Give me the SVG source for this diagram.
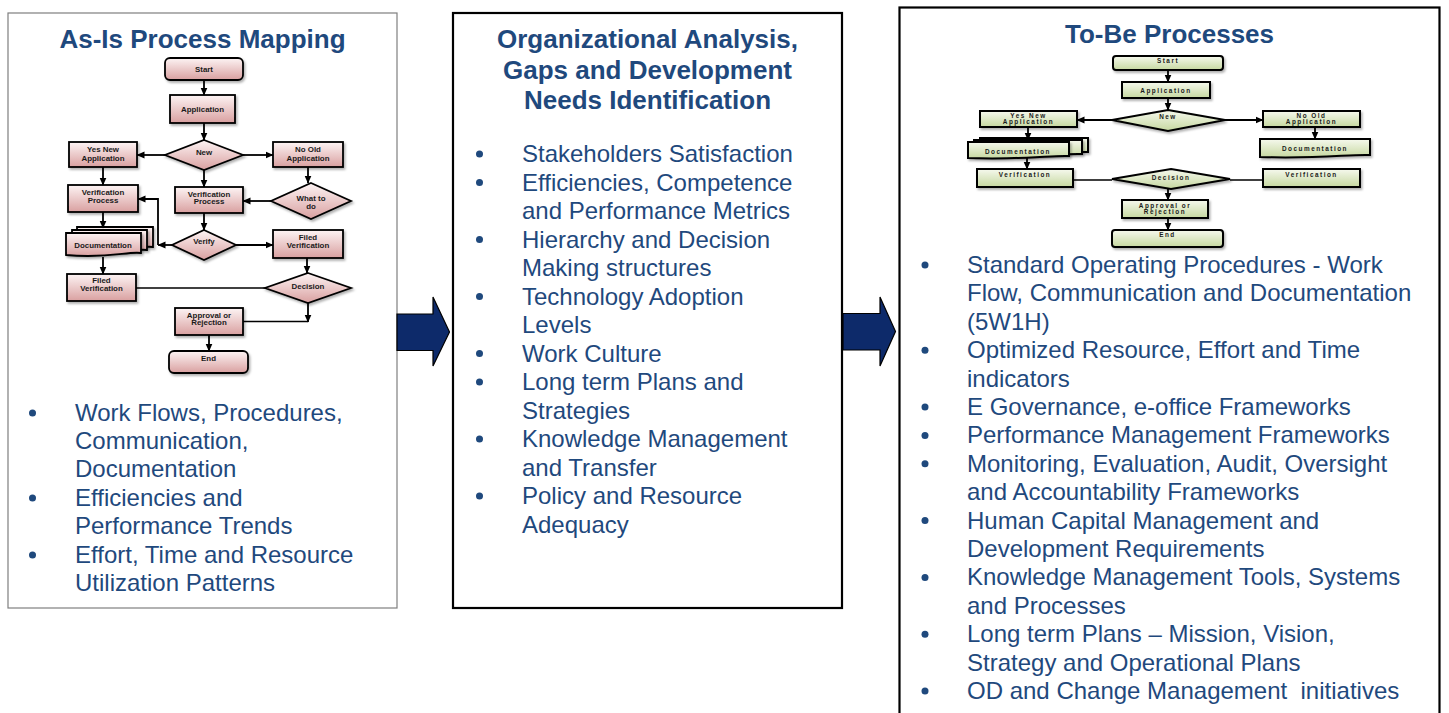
<svg xmlns="http://www.w3.org/2000/svg" width="1449" height="713" viewBox="0 0 1449 713">
  <style>
    .panel-thin { fill: #ffffff; stroke: #7f7f7f; stroke-width: 1.2; }
    .panel { fill: #ffffff; stroke: #000000; stroke-width: 2.2; }
    .title { font-family: "Liberation Sans", Arial, sans-serif; font-weight: bold; font-size: 26px; fill: #1f497d; text-anchor: middle; }
    .item { font-family: "Liberation Sans", Arial, sans-serif; font-size: 24px; fill: #1f497d; }
    .dot { fill: #1f497d; }
    .bigarrow { fill: #0d2a6a; stroke: #000000; stroke-width: 1.2; }
    .pk { fill: url(#pinkFill); stroke: #000000; stroke-width: 1.8; filter: url(#shadow); }
    .gr { fill: url(#greenFill); stroke: #000000; stroke-width: 2; filter: url(#shadow); }
    .lbl { font-family: "Liberation Sans", Arial, sans-serif; font-weight: bold; font-size: 7.9px; fill: #1a1a1a; text-anchor: middle; }
    .lbl2 { font-family: "Liberation Sans", Arial, sans-serif; font-weight: bold; font-size: 6.4px; letter-spacing: 1.5px; fill: #1a1a1a; text-anchor: middle; }
    .ln { fill: none; stroke: #000000; stroke-width: 1.5; }
    .ar { fill: none; stroke: #000000; stroke-width: 1.8; marker-end: url(#tip); }
  </style>
  <defs>
    <linearGradient id="pinkFill" x1="0" y1="0" x2="0" y2="1">
      <stop offset="0" stop-color="#fdf4f4"/>
      <stop offset="1" stop-color="#d9a0a0"/>
    </linearGradient>
    <linearGradient id="greenFill" x1="0" y1="0" x2="0" y2="1">
      <stop offset="0" stop-color="#f6f9ee"/>
      <stop offset="1" stop-color="#c6d8a0"/>
    </linearGradient>
    <filter id="shadow" x="-20%" y="-20%" width="150%" height="160%">
      <feDropShadow dx="1.5" dy="2" stdDeviation="1.2" flood-color="#000000" flood-opacity="0.3"/>
    </filter>
    <marker id="tip" markerUnits="userSpaceOnUse" markerWidth="8" markerHeight="8" viewBox="0 0 8 8" refX="7.5" refY="4" orient="auto">
      <path d="M0,0.5 L8,4 L0,7.5 Z" fill="#000000"/>
    </marker>
  </defs>

  <!-- Panels -->
  <g id="panel-asis">
    <rect class="panel-thin" x="8" y="13" width="389" height="595"/>
    <text class="title" x="202.5" y="48">As-Is Process Mapping</text>
  </g>
  <g id="panel-analysis">
    <rect class="panel" x="453" y="13" width="389" height="595"/>
    <text class="title" x="647.5" y="48">Organizational Analysis,</text>
    <text class="title" x="647.5" y="79">Gaps and Development</text>
    <text class="title" x="647.5" y="109">Needs Identification</text>
  </g>
  <g id="panel-tobe">
    <rect class="panel" x="899.5" y="7.5" width="540" height="720"/>
    <text class="title" x="1169.5" y="43">To-Be Processes</text>
  </g>

  <!-- Block arrows between panels -->
  <g id="flow-arrows">
    <polygon class="bigarrow" points="397,314 433,314 433,297 449.5,332 433,366 433,350.5 397,350.5"/>
    <polygon class="bigarrow" points="843,313.5 880,313.5 880,297 895.5,331.5 880,366 880,350 843,350"/>
  </g>

  <!-- As-Is flowchart: nodes -->
  <g id="asis-start"><rect class="pk" x="165" y="58" width="78" height="22" rx="5"/><text class="lbl" x="204" y="71.5">Start</text></g>
  <g id="asis-application"><rect class="pk" x="170" y="95" width="65" height="28"/><text class="lbl" x="202.5" y="111.5">Application</text></g>
  <g id="asis-new"><polygon class="pk" points="204,140 243,155 204,170 165,155"/><text class="lbl" x="204" y="155">New</text></g>
  <g id="asis-yesnew"><rect class="pk" x="69" y="142" width="68" height="25"/><text class="lbl" x="103" y="152">Yes New</text><text class="lbl" x="103" y="161">Application</text></g>
  <g id="asis-noold"><rect class="pk" x="273" y="142" width="70" height="25"/><text class="lbl" x="308" y="152">No Old</text><text class="lbl" x="308" y="161">Application</text></g>
  <g id="asis-verif-left"><rect class="pk" x="68" y="185" width="70" height="27"/><text class="lbl" x="103" y="195">Verification</text><text class="lbl" x="103" y="203">Process</text></g>
  <g id="asis-verif-mid"><rect class="pk" x="175" y="187" width="68" height="26"/><text class="lbl" x="209" y="196.5">Verification</text><text class="lbl" x="209" y="204">Process</text></g>
  <g id="asis-whattodo"><polygon class="pk" points="311,183 351,201 311,219 271,201"/><text class="lbl" x="311" y="201">What to</text><text class="lbl" x="311" y="209">do</text></g>
  <g id="asis-verify"><polygon class="pk" points="204,230 236,245 204,260 172,245"/><text class="lbl" x="204" y="244">Verify</text></g>
  <g id="asis-filed-right"><rect class="pk" x="273" y="230" width="70" height="28"/><text class="lbl" x="308" y="240">Filed</text><text class="lbl" x="308" y="247.7">Verification</text></g>
  <g id="asis-documentation">
    <path class="pk" d="M77,227 H153 V247 C140,245 120,253 77,249 Z"/>
    <path class="pk" d="M72,230 H147 V250 C134,248 114,256 72,252 Z"/>
    <path class="pk" d="M66,233 H141 V253 C128,251 108,259 66,255 Z"/>
    <text class="lbl" x="103" y="248">Documentation</text>
  </g>
  <g id="asis-filed-left"><rect class="pk" x="67" y="274" width="69" height="27"/><text class="lbl" x="101.5" y="283">Filed</text><text class="lbl" x="101.5" y="291">Verification</text></g>
  <g id="asis-decision"><polygon class="pk" points="308,273 351,288 308,303 265,288"/><text class="lbl" x="308" y="288.5">Decision</text></g>
  <g id="asis-approval"><rect class="pk" x="175" y="308" width="68" height="27"/><text class="lbl" x="209" y="317.5">Approval or</text><text class="lbl" x="209" y="325">Rejection</text></g>
  <g id="asis-end"><rect class="pk" x="169" y="351" width="79" height="22" rx="5"/><text class="lbl" x="208.5" y="361">End</text></g>

  <!-- As-Is flowchart: connectors -->
  <g id="asis-connectors">
    <path class="ar" d="M204,80 V95"/>
    <path class="ar" d="M204,123 V140"/>
    <path class="ar" d="M165,155 H137"/>
    <path class="ar" d="M243,155 H273"/>
    <path class="ar" d="M103,167 V185"/>
    <path class="ar" d="M204,170 V187"/>
    <path class="ar" d="M308,167 V183"/>
    <path class="ar" d="M271,201 H243"/>
    <path class="ar" d="M204,213 V230"/>
    <path class="ar" d="M236,245 H273"/>
    <path class="ar" d="M172,245 H158"/>
    <path class="ar" d="M158,245 V199 H138"/>
    <path class="ar" d="M103,212 V228"/>
    <path class="ar" d="M103,257 V274"/>
    <path class="ar" d="M307,258 V273"/>
    <path class="ln" d="M136,288 H265"/>
    <path class="ln" d="M243,321.5 H308"/>
    <path class="ar" d="M308,303 V322"/>
    <path class="ar" d="M209,335 V351"/>
  </g>

  <!-- To-Be flowchart: nodes -->
  <g id="tobe-start"><rect class="gr" x="1113" y="56" width="110" height="14" rx="3"/><text class="lbl2" x="1168" y="63">Start</text></g>
  <g id="tobe-application"><rect class="gr" x="1122" y="82" width="88" height="16"/><text class="lbl2" x="1166" y="93">Application</text></g>
  <g id="tobe-new"><polygon class="gr" points="1168,110 1225,120 1168,131 1112,120"/><text class="lbl2" x="1168" y="119">New</text></g>
  <g id="tobe-yesnew"><rect class="gr" x="980" y="111" width="97" height="16"/><text class="lbl2" x="1028.5" y="117.5">Yes New</text><text class="lbl2" x="1028.5" y="124">Application</text></g>
  <g id="tobe-noold"><rect class="gr" x="1263" y="111" width="97" height="16"/><text class="lbl2" x="1311.5" y="117.5">No Old</text><text class="lbl2" x="1311.5" y="124">Application</text></g>
  <g id="tobe-doc-left">
    <path class="gr" d="M980,138 H1088 V152 C1070,151 1040,156 980,154 Z"/>
    <path class="gr" d="M974,140 H1082 V154 C1064,153 1034,158 974,156 Z"/>
    <path class="gr" d="M968,142 H1069 V156 C1052,155 1025,160 968,158 Z"/>
    <text class="lbl2" x="1018" y="153.5">Documentation</text>
  </g>
  <g id="tobe-doc-right">
    <path class="gr" d="M1260,139 H1370 V155 C1350,154 1320,159 1260,157 Z"/>
    <text class="lbl2" x="1315" y="151">Documentation</text>
  </g>
  <g id="tobe-verif-left"><rect class="gr" x="977" y="169" width="96" height="18"/><text class="lbl2" x="1025" y="177">Verification</text></g>
  <g id="tobe-decision"><polygon class="gr" points="1171,169 1230,179 1171,189 1112,179"/><text class="lbl2" x="1171" y="180">Decision</text></g>
  <g id="tobe-verif-right"><rect class="gr" x="1263" y="169" width="97" height="18"/><text class="lbl2" x="1311.5" y="177">Verification</text></g>
  <g id="tobe-approval"><rect class="gr" x="1122" y="200" width="86" height="18"/><text class="lbl2" x="1165" y="208">Approval or</text><text class="lbl2" x="1165" y="214">Rejection</text></g>
  <g id="tobe-end"><rect class="gr" x="1112" y="230" width="111" height="17" rx="3"/><text class="lbl2" x="1167.5" y="237">End</text></g>

  <!-- To-Be flowchart: connectors -->
  <g id="tobe-connectors">
    <path class="ar" d="M1168,70 V82"/>
    <path class="ar" d="M1168,98 V110"/>
    <path class="ar" d="M1112,120 H1077"/>
    <path class="ar" d="M1225,120 H1263"/>
    <path class="ar" d="M1028,127 V140"/>
    <path class="ar" d="M1315,127 V139"/>
    <path class="ar" d="M1027,157 V169"/>
    <path class="ln" d="M1073,180 H1112"/>
    <path class="ln" d="M1230,180 H1263"/>
    <path class="ar" d="M1168,189 V200"/>
    <path class="ar" d="M1168,218 V230"/>
  </g>

  <!-- Bullet lists -->
  <g id="list-asis">
    <circle class="dot" cx="32.5" cy="413" r="3.5"/>
    <text class="item" x="75" y="421">Work Flows, Procedures,</text>
    <text class="item" x="75" y="449">Communication,</text>
    <text class="item" x="75" y="477">Documentation</text>
    <circle class="dot" cx="32.5" cy="498" r="3.5"/>
    <text class="item" x="75" y="506">Efficiencies and</text>
    <text class="item" x="75" y="534">Performance Trends</text>
    <circle class="dot" cx="32.5" cy="555" r="3.5"/>
    <text class="item" x="75" y="562.5">Effort, Time and Resource</text>
    <text class="item" x="75" y="590.5">Utilization Patterns</text>
  </g>
  <g id="list-analysis">
    <circle class="dot" cx="479.5" cy="154" r="3.5"/>
    <text class="item" x="522" y="162">Stakeholders Satisfaction</text>
    <circle class="dot" cx="479.5" cy="182.5" r="3.5"/>
    <text class="item" x="522" y="190.5">Efficiencies, Competence</text>
    <text class="item" x="522" y="219">and Performance Metrics</text>
    <circle class="dot" cx="479.5" cy="239.5" r="3.5"/>
    <text class="item" x="522" y="247.5">Hierarchy and Decision</text>
    <text class="item" x="522" y="276">Making structures</text>
    <circle class="dot" cx="479.5" cy="296.5" r="3.5"/>
    <text class="item" x="522" y="304.5">Technology Adoption</text>
    <text class="item" x="522" y="333">Levels</text>
    <circle class="dot" cx="479.5" cy="353.5" r="3.5"/>
    <text class="item" x="522" y="361.5">Work Culture</text>
    <circle class="dot" cx="479.5" cy="382" r="3.5"/>
    <text class="item" x="522" y="390">Long term Plans and</text>
    <text class="item" x="522" y="418.5">Strategies</text>
    <circle class="dot" cx="479.5" cy="439" r="3.5"/>
    <text class="item" x="522" y="447">Knowledge Management</text>
    <text class="item" x="522" y="475.5">and Transfer</text>
    <circle class="dot" cx="479.5" cy="496" r="3.5"/>
    <text class="item" x="522" y="504">Policy and Resource</text>
    <text class="item" x="522" y="532.5">Adequacy</text>
  </g>
  <g id="list-tobe">
    <circle class="dot" cx="925" cy="265" r="3.5"/>
    <text class="item" x="967" y="273">Standard Operating Procedures - Work</text>
    <text class="item" x="967" y="301.4">Flow, Communication and Documentation</text>
    <text class="item" x="967" y="329.8">(5W1H)</text>
    <circle class="dot" cx="925" cy="350.2" r="3.5"/>
    <text class="item" x="967" y="358.2">Optimized Resource, Effort and Time</text>
    <text class="item" x="967" y="386.6">indicators</text>
    <circle class="dot" cx="925" cy="407" r="3.5"/>
    <text class="item" x="967" y="415">E Governance, e-office Frameworks</text>
    <circle class="dot" cx="925" cy="435.4" r="3.5"/>
    <text class="item" x="967" y="443.4">Performance Management Frameworks</text>
    <circle class="dot" cx="925" cy="463.8" r="3.5"/>
    <text class="item" x="967" y="471.8">Monitoring, Evaluation, Audit, Oversight</text>
    <text class="item" x="967" y="500.2">and Accountability Frameworks</text>
    <circle class="dot" cx="925" cy="520.6" r="3.5"/>
    <text class="item" x="967" y="528.6">Human Capital Management and</text>
    <text class="item" x="967" y="557">Development Requirements</text>
    <circle class="dot" cx="925" cy="577.4" r="3.5"/>
    <text class="item" x="967" y="585.4">Knowledge Management Tools, Systems</text>
    <text class="item" x="967" y="613.8">and Processes</text>
    <circle class="dot" cx="925" cy="634.2" r="3.5"/>
    <text class="item" x="967" y="642.2">Long term Plans – Mission, Vision,</text>
    <text class="item" x="967" y="670.6">Strategy and Operational Plans</text>
    <circle class="dot" cx="925" cy="691" r="3.5"/>
    <text class="item" x="967" y="699" xml:space="preserve">OD and Change Management  initiatives</text>
  </g>
</svg>
